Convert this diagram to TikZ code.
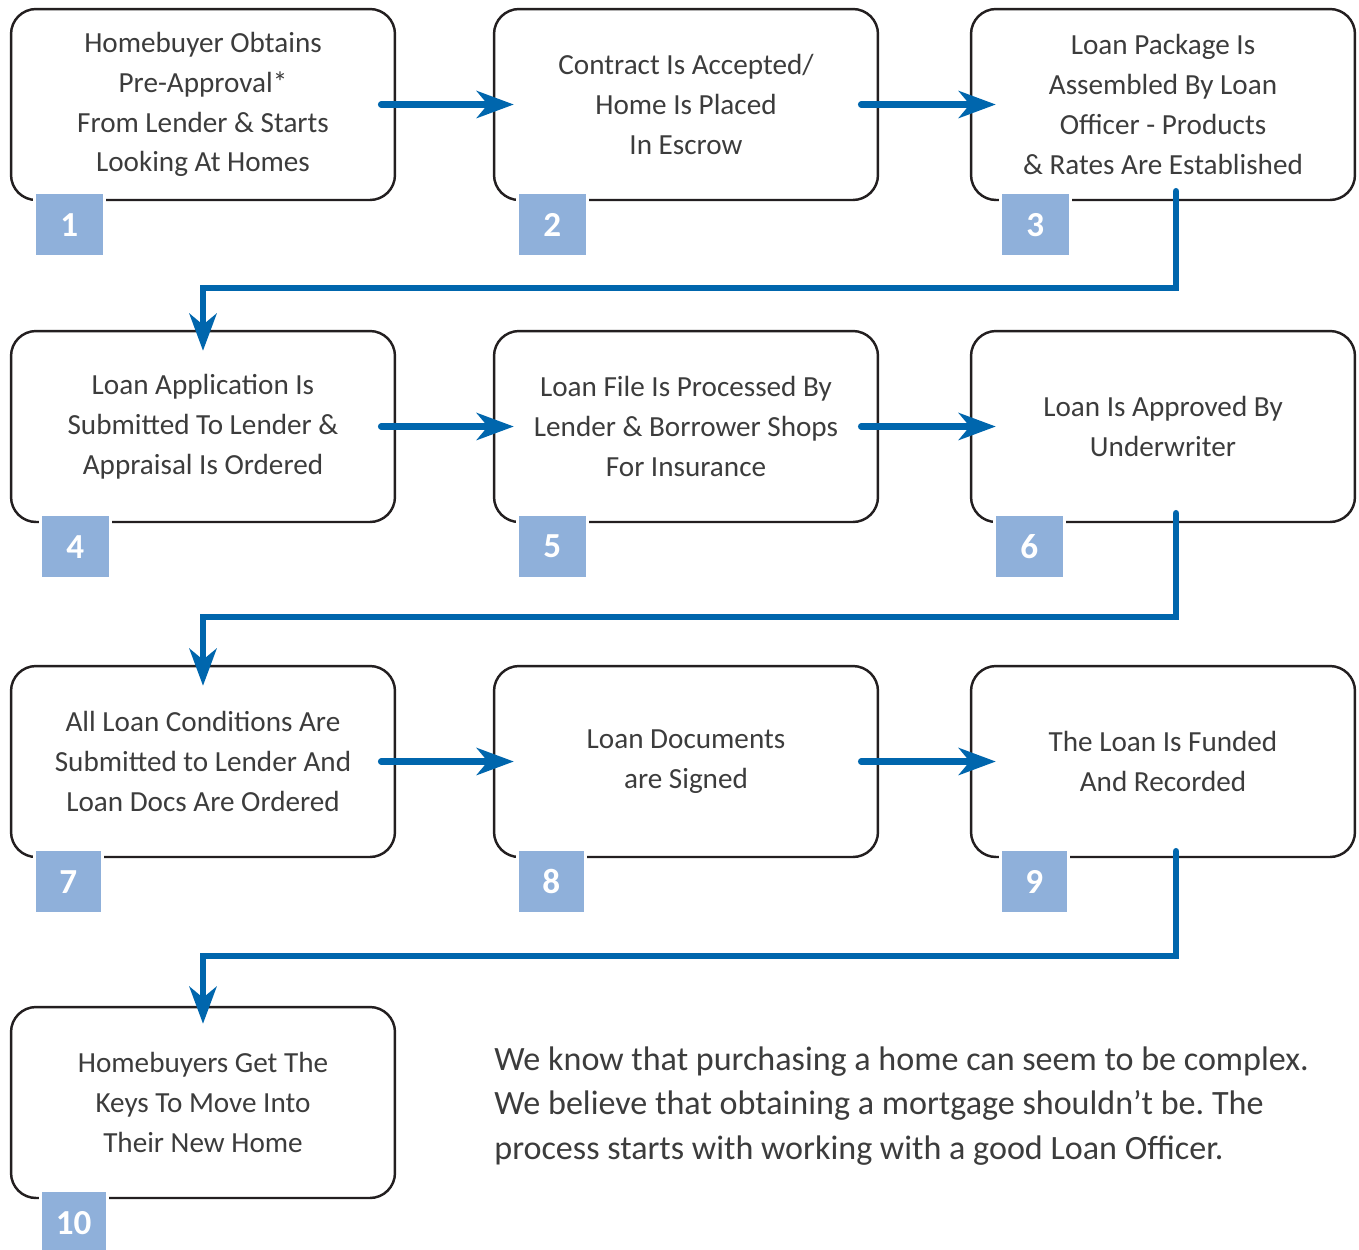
\documentclass[tikz,border=0pt]{standalone}
\usepackage{fontspec}
\setmainfont{Carlito}
\usetikzlibrary{positioning}
\usetikzlibrary{calc}
\usetikzlibrary{arrows.meta}
\definecolor{flowblue}{HTML}{0066AD}
\definecolor{badgeblue}{HTML}{8FB0DA}
\definecolor{textgray}{HTML}{3C3C3C}
\definecolor{edgegray}{HTML}{231F20}
\frenchspacing

\begin{document}
\begin{tikzpicture}[x=0.02cm,y=-0.02cm]
		\tikzset{stepbox/.style = {shape=rectangle, rounded corners=0.5cm, draw=edgegray, line width=1.4pt, minimum width=7.68cm, minimum height=3.82cm, align=center, text=textgray, font=\fontsize{16.6pt}{22.7pt}\selectfont},
			badge/.style = {shape=rectangle, fill=badgeblue, draw=white, line width=1.6pt, minimum width=1.4cm, minimum height=1.28cm, anchor=north west, text=white, font=\fontsize{20pt}{24pt}\selectfont\bfseries},
			flow/.style = {-{Stealth[length=0.74cm,width=0.54cm,inset=0.22cm]}, draw=flowblue, line width=0.13cm, line cap=round}}
		\useasboundingbox (0,0) rectangle (1359,1249);
		
		% boxes
		\node[stepbox] (b1) at (203,104.5) {Homebuyer Obtains\\ Pre-Approval*\\ From Lender \& Starts\\ Looking At Homes};
		\node[stepbox] (b2) at (686,104.5) {Contract Is Accepted/\\ Home Is Placed\\ In Escrow};
		\node[stepbox] (b3) at (1163,104.5) {Loan Package Is\\ Assembled By Loan\\ Officer - Products\\ \& Rates Are Established};
		\node[stepbox] (b4) at (203,426.5) {Loan Application Is\\ Submitted To Lender \&\\ Appraisal Is Ordered};
		\node[stepbox] (b5) at (686,426.5) {Loan File Is Processed By\\ Lender \& Borrower Shops\\ For Insurance};
		\node[stepbox] (b6) at (1163,426.5) {Loan Is Approved By\\ Underwriter};
		\node[stepbox] (b7) at (203,761.5) {All Loan Conditions Are\\ Submitted to Lender And\\ Loan Docs Are Ordered};
		\node[stepbox] (b8) at (686,761.5) {Loan Documents\\ are Signed};
		\node[stepbox] (b9) at (1163,761.5) {The Loan Is Funded\\ And Recorded};
		\node[stepbox] (b10) at (203,1102.5) {Homebuyers Get The\\ Keys To Move Into\\ Their New Home};
		
		% numbers
		\node[badge] (n1) at ($(b1.south west)+(23,-10)$) {1};
		\node[badge] (n2) at ($(b2.south west)+(23,-10)$) {2};
		\node[badge] (n3) at ($(b3.south west)+(29,-10)$) {3};
		\node[badge] (n4) at ($(b4.south west)+(29,-10)$) {4};
		\node[badge] (n5) at ($(b5.south west)+(23,-10)$) {5};
		\node[badge] (n6) at ($(b6.south west)+(23,-10)$) {6};
		\node[badge, minimum width=1.36cm] (n7) at ($(b7.south west)+(23,-10)$) {7};
		\node[badge, minimum width=1.36cm] (n8) at ($(b8.south west)+(23,-10)$) {8};
		\node[badge, minimum width=1.36cm] (n9) at ($(b9.south west)+(29,-10)$) {9};
		\node[badge, minimum width=1.34cm] (n10) at ($(b10.south west)+(29,-10)$) {10};
		
		% arrows
		\draw[flow] ([xshift=-0.3cm]b1.east) -- ([xshift=0.42cm]b2.west);
		\draw[flow] ([xshift=-0.36cm]b2.east) -- ([xshift=0.52cm]b3.west);
		\draw[flow] ([xshift=-0.3cm]b4.east) -- ([xshift=0.42cm]b5.west);
		\draw[flow] ([xshift=-0.36cm]b5.east) -- ([xshift=0.52cm]b6.west);
		\draw[flow] ([xshift=-0.3cm]b7.east) -- ([xshift=0.42cm]b8.west);
		\draw[flow] ([xshift=-0.36cm]b8.east) -- ([xshift=0.52cm]b9.west);
		\draw[flow] ([xshift=0.26cm,yshift=0.2cm]b3.south) -- ++(0,97) -| ([yshift=-0.42cm]b4.north);
		\draw[flow] ([xshift=0.26cm,yshift=0.2cm]b6.south) -- ++(0,104) -| ([yshift=-0.42cm]b7.north);
		\draw[flow] ([xshift=0.26cm,yshift=0.14cm]b9.south) -- ++(0,105) -| ([yshift=-0.36cm]b10.north);
		
		% note
		\node[anchor=west, align=left, inner sep=0pt, text=textgray, font=\fontsize{19.4pt}{25.5pt}\selectfont] (note) at (494,1106)
		{We know that purchasing a home can seem to be complex.\\
			We believe that obtaining a mortgage shouldn’t be. The\\
			process starts with working with a good Loan Officer.};
		
		\end{tikzpicture}
\end{document}
